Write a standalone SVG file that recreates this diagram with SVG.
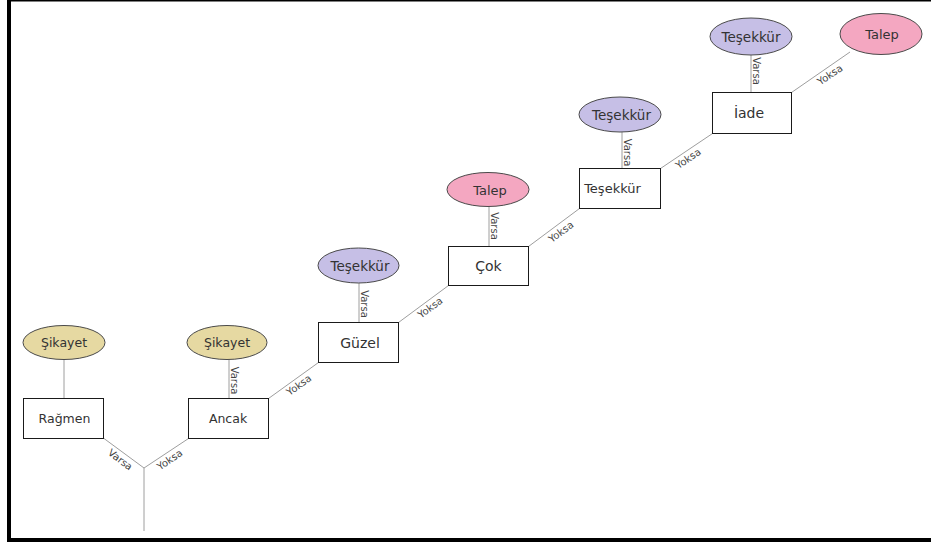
<svg xmlns="http://www.w3.org/2000/svg" width="931" height="542" viewBox="0 0 931 542">
<style>
.bg{fill:#ffffff}
.frame{fill:#000000}
.box{fill:#ffffff;stroke:#1a1a1a;stroke-width:1}
.sik{fill:#e6d9a2;stroke:#4a4a4a;stroke-width:1}
.tes{fill:#c6bfe6;stroke:#4a4a4a;stroke-width:1}
.tal{fill:#f4a7c1;stroke:#4a4a4a;stroke-width:1}
.lbl{font-family:"DejaVu Sans",Verdana,sans-serif;fill:#333333;text-anchor:middle}
.cl{font-family:"DejaVu Sans",Verdana,sans-serif;font-size:10px;fill:#444444;text-anchor:middle}
#connectors line{stroke:#9e9e9e;stroke-width:1;fill:none}
</style>
<rect class="bg" x="0" y="0" width="931" height="542"/>
<g id="frame">
<rect class="frame" x="7" y="0" width="4" height="542"/>
<rect class="frame" x="7" y="0" width="924" height="1.5"/>
<rect class="frame" x="7" y="538" width="924" height="4"/>
</g>
<g id="connectors">
<line x1="64" y1="359.5" x2="64" y2="398.5"/>
<line x1="229" y1="359.5" x2="229" y2="398.5"/>
<line x1="104" y1="438.5" x2="144" y2="468"/>
<line x1="188.5" y1="438.5" x2="144" y2="468"/>
<line x1="144" y1="468" x2="144" y2="531"/>
<line x1="268.5" y1="398.5" x2="318.5" y2="362.5"/>
<line x1="359" y1="283" x2="359" y2="322.5"/>
<line x1="398.5" y1="322.5" x2="448.5" y2="285.5"/>
<line x1="489" y1="206.5" x2="489" y2="246.5"/>
<line x1="528.5" y1="246.5" x2="579.5" y2="208.5"/>
<line x1="622" y1="132" x2="622" y2="168.5"/>
<line x1="660.5" y1="168.5" x2="712.5" y2="133.5"/>
<line x1="751" y1="55" x2="751" y2="92.5"/>
<line x1="791.5" y1="92.5" x2="850" y2="52"/>
<text class="cl" transform="translate(124.8,453.6) rotate(36.87)" y="11">Varsa</text>
<text class="cl" transform="translate(165.5,453.4) rotate(-34.3)" y="11">Yoksa</text>
<text class="cl" transform="translate(231,380.5) rotate(90)" y="0">Varsa</text>
<text class="cl" transform="translate(294.5,378.9) rotate(-35.8)" y="11">Yoksa</text>
<text class="cl" transform="translate(361,304) rotate(90)" y="0">Varsa</text>
<text class="cl" transform="translate(425.7,301.5) rotate(-36.5)" y="11">Yoksa</text>
<text class="cl" transform="translate(491,226) rotate(90)" y="0">Varsa</text>
<text class="cl" transform="translate(556.5,225.7) rotate(-36.5)" y="11">Yoksa</text>
<text class="cl" transform="translate(624,152.5) rotate(90)" y="0">Varsa</text>
<text class="cl" transform="translate(683.9,152.3) rotate(-34.5)" y="11">Yoksa</text>
<text class="cl" transform="translate(753,71) rotate(90)" y="0">Varsa</text>
<text class="cl" transform="translate(825.7,68.5) rotate(-34.1)" y="11">Yoksa</text>
</g>
<g id="sikayet1"><ellipse class="sik" cx="64" cy="342.5" rx="41" ry="17"/><text class="lbl" x="64" y="347" font-size="12.5">Şikayet</text></g>
<g id="ragmen"><rect class="box" x="23.5" y="398.5" width="80" height="40"/><text class="lbl" x="64.5" y="423" font-size="12.5">Rağmen</text></g>
<g id="sikayet2"><ellipse class="sik" cx="227" cy="342.5" rx="40" ry="17"/><text class="lbl" x="227" y="347" font-size="12.5">Şikayet</text></g>
<g id="ancak"><rect class="box" x="188.5" y="398.5" width="80" height="40"/><text class="lbl" x="228" y="423" font-size="12.5">Ancak</text></g>
<g id="tesekkur1"><ellipse class="tes" cx="358.5" cy="265.5" rx="40.5" ry="17.5"/><text class="lbl" x="360" y="270.5" font-size="13.5">Teşekkür</text></g>
<g id="guzel"><rect class="box" x="318.5" y="322.5" width="80" height="40"/><text class="lbl" x="360" y="347.5" font-size="14">Güzel</text></g>
<g id="talep1"><ellipse class="tal" cx="488" cy="189.5" rx="41" ry="17"/><text class="lbl" x="490" y="194.5" font-size="13">Talep</text></g>
<g id="cok"><rect class="box" x="448.5" y="246.5" width="80" height="39"/><text class="lbl" x="488.5" y="271" font-size="14">Çok</text></g>
<g id="tesekkur2"><ellipse class="tes" cx="620" cy="114.5" rx="41" ry="17.5"/><text class="lbl" x="621.5" y="119.5" font-size="13.5">Teşekkür</text></g>
<g id="tesekkur-box"><rect class="box" x="579.5" y="168.5" width="81" height="40"/><text class="lbl" x="612.5" y="193" font-size="13">Teşekkür</text></g>
<g id="tesekkur3"><ellipse class="tes" cx="751" cy="36.5" rx="41" ry="18.5"/><text class="lbl" x="751" y="41.5" font-size="13.5">Teşekkür</text></g>
<g id="iade"><rect class="box" x="712.5" y="92.5" width="79" height="41"/><text class="lbl" x="749" y="117.5" font-size="14">İade</text></g>
<g id="talep2"><ellipse class="tal" cx="881" cy="34" rx="41" ry="20.5"/><text class="lbl" x="882" y="39" font-size="13">Talep</text></g>
</svg>
